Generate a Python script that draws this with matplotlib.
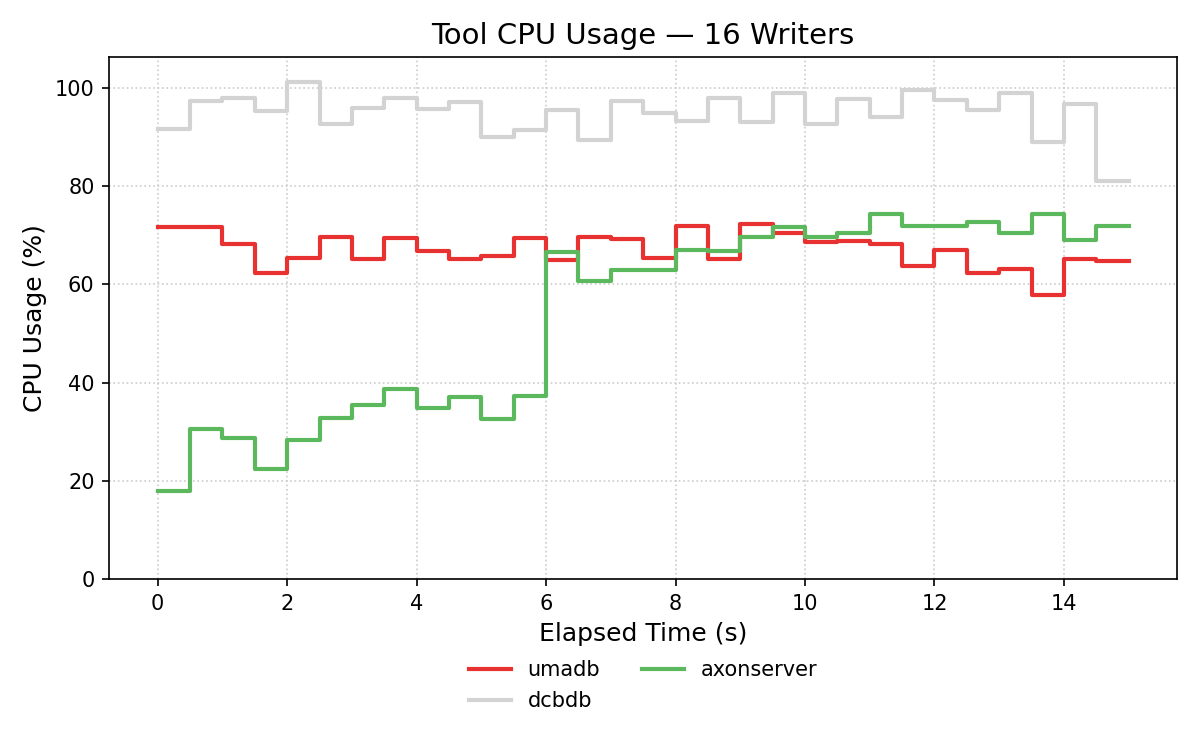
import numpy as np
import matplotlib
matplotlib.use("Agg")
import matplotlib.pyplot as plt

# elapsed time (s), sampled every 0.5 s
t = np.arange(0, 15.01, 0.5)

umadb = [71.6, 71.6, 68.2, 62.3, 65.3, 69.6, 65.1, 69.4, 66.7, 65.1,
         65.7, 69.4, 64.9, 69.6, 69.2, 65.3, 71.8, 65.1, 72.2, 70.5,
         68.6, 68.9, 68.2, 63.8, 66.9, 62.3, 63.2, 57.9, 65.1, 64.7, 64.7]
dcbdb = [91.6, 97.3, 98.0, 95.3, 101.2, 92.6, 95.8, 98.0, 95.7, 97.2,
         89.9, 91.4, 95.5, 89.3, 97.3, 94.9, 93.3, 98.0, 93.1, 98.9,
         92.7, 97.8, 94.1, 99.6, 97.5, 95.5, 99.0, 88.9, 96.7, 81.0, 81.0]
axonserver = [18.0, 30.6, 28.8, 22.3, 28.2, 32.7, 35.4, 38.6, 34.9, 37.0,
              32.6, 37.2, 66.5, 60.7, 62.9, 62.9, 66.9, 66.7, 69.6, 71.6,
              69.6, 70.4, 74.2, 71.8, 71.8, 72.7, 70.4, 74.4, 69.0, 71.8, 71.8]

fig, ax = plt.subplots(figsize=(8, 5), dpi=150)
fig.subplots_adjust(left=0.091, right=0.981, top=0.924, bottom=0.228)

ax.step(t, umadb, where="post", color="#e83232", lw=2, label="umadb")
ax.step(t, dcbdb, where="post", color="#d3d3d3", lw=2, label="dcbdb")
ax.step(t, axonserver, where="post", color="#5cb85c", lw=2, label="axonserver")

ax.set_ylim(0, max(dcbdb) * 1.05)
ax.set_xticks(range(0, 15, 2))
ax.grid(True, linestyle=":", color="#cccccc", lw=0.8)
ax.set_title("Tool CPU Usage \u2014 16 Writers", fontsize=14)
ax.set_xlabel("Elapsed Time (s)", fontsize=12)
ax.set_ylabel("CPU Usage (%)", fontsize=12)

ax.legend(ncol=2, frameon=False, loc="upper center",
          bbox_to_anchor=(0.5, -0.12), fontsize=10)

fig.savefig("out.png")
